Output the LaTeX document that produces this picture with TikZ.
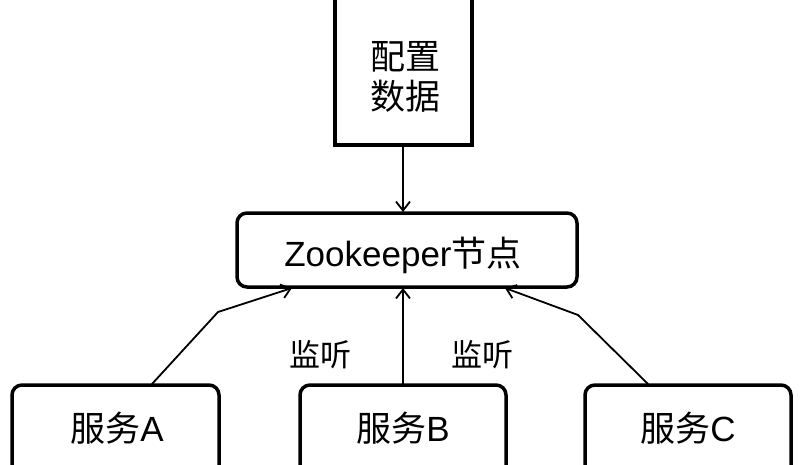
\documentclass[tikz,border=0pt]{standalone}
\usepackage{fontspec}
\setmainfont{Liberation Sans}
\newfontfamily\cjk{Noto Sans CJK SC}
\usetikzlibrary{arrows.meta}
\begin{document}
\begin{tikzpicture}[x=1pt,y=-1pt,
  box/.style={draw,line width=3.5pt,rounded corners=10pt,inner sep=0pt},
  lbl/.style={font=\fontsize{31}{38}\selectfont},
  big/.style={font=\fontsize{35}{40}\selectfont},
  arr/.style={line width=1.8pt,-{Straight Barb[length=9pt,width=14pt]}}]
\clip (0,0) rectangle (806,464);
\fill[white] (0,0) rectangle (806,464);
\draw[line width=3.5pt] (335,-5) rectangle (472,145);
\node[big,align=center] (cfg) at (405,77) {\cjk 配置\\\cjk 数据};
\coordinate (cfgb) at (403,145);
\draw[box] (237,213) rectangle (577,287);
\node[big] (zk) at (403,255) {Zookeeper{\cjk 节点}};
\draw[box] (12,385) rectangle (219,480);
\draw[box] (300,385) rectangle (506,480);
\draw[box] (585,385) rectangle (791,480);
\node[big] (a) at (117,428) {{\cjk 服务}A};
\node[big] (b) at (403,428) {{\cjk 服务}B};
\node[big] (c) at (688,428) {{\cjk 服务}C};
\coordinate (zt) at (403,212);
\coordinate (zl) at (292,288);
\coordinate (zm) at (403,288);
\coordinate (zr) at (505,288);
\coordinate (as) at (152,384);
\coordinate (bs) at (403,384);
\coordinate (cs) at (648,384);
\draw[arr] (cfgb) -- (zt);
\draw[arr] (as) -- (218,312) -- (zl);
\draw[arr] (bs) -- (zm);
\draw[arr] (cs) -- (578,315) -- (zr);
\node[lbl] (l1) at (320,355) {\cjk 监听};
\node[lbl] (l2) at (482,355) {\cjk 监听};
\end{tikzpicture}
\end{document}
